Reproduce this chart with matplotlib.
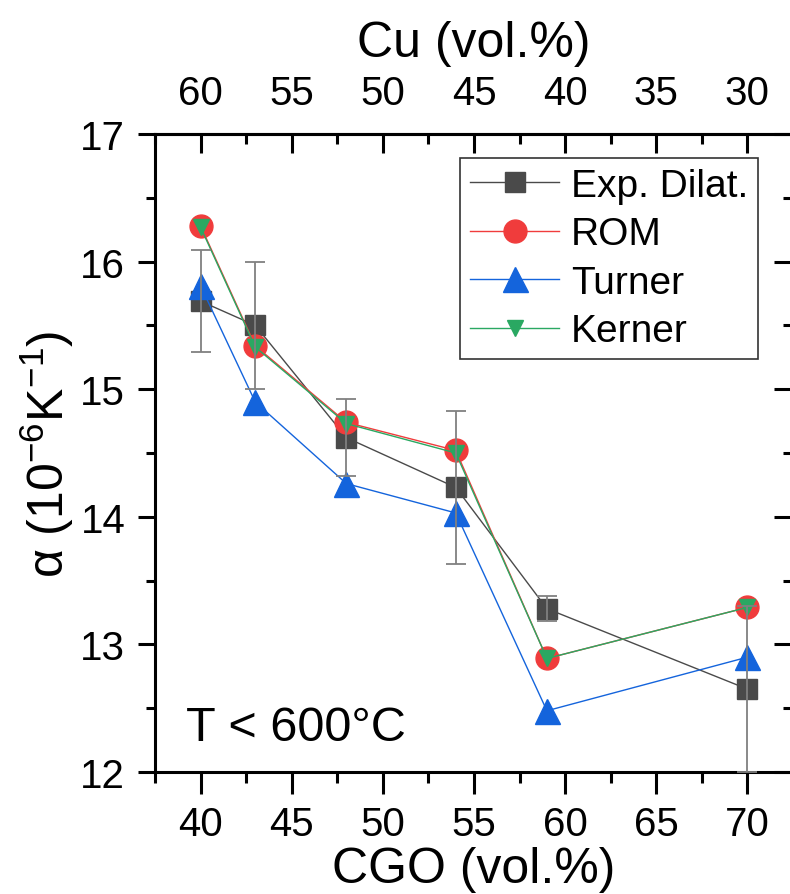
import matplotlib
matplotlib.use("Agg")
import matplotlib.pyplot as plt
from matplotlib.ticker import MultipleLocator, FixedLocator

plt.rcParams['font.family'] = ['Liberation Sans', 'DejaVu Sans']
plt.rcParams['mathtext.fontset'] = 'custom'
plt.rcParams['mathtext.rm'] = 'Liberation Sans'
plt.rcParams['mathtext.default'] = 'regular'

# CGO content (vol.%)
cgo = [40, 43, 48, 54, 59, 70]
# thermal expansion coefficient (10^-6 K^-1)
exp_dilat = [15.69, 15.50, 14.62, 14.23, 13.28, 12.65]
exp_err = [0.40, 0.50, 0.30, 0.60, 0.10, 0.65]
rom = [16.28, 15.34, 14.74, 14.52, 12.89, 13.29]
turner = [15.81, 14.90, 14.26, 14.03, 12.48, 12.90]
kerner = [16.27, 15.33, 14.73, 14.50, 12.89, 13.29]
# top axis tick labels (Cu vol.%)
cu_ticks = [60, 55, 50, 45, 40, 35, 30]

c_exp = '#4a4a4a'
c_rom = '#f03c3c'
c_turner = '#1464dc'
c_kerner = '#2aa862'

fig = plt.figure(figsize=(7.9, 8.95), dpi=100)
ax = fig.add_axes([0.1962, 0.1363, 0.8076, 0.7129])

ax.plot(cgo, exp_dilat, '-s', color=c_exp, lw=1.0, ms=14, mec=c_exp, label='Exp. Dilat.', zorder=3)
ax.errorbar(cgo, exp_dilat, yerr=exp_err, fmt='none', ecolor='#808080', elinewidth=1.3,
            capsize=7, capthick=1.3, zorder=6)
ax.plot(cgo, rom, '-o', color=c_rom, lw=1.0, ms=16.5, mec=c_rom, label='ROM', zorder=4)
ax.plot(cgo, turner, '-^', color=c_turner, lw=1.0, ms=18, mec=c_turner, label='Turner', zorder=5)
ax.plot(cgo, kerner, '-v', color=c_kerner, lw=1.0, ms=11, mec=c_kerner, label='Kerner', zorder=5)

ax.set_xlim(37.5, 72.5)
ax.set_ylim(12, 17)
ax.xaxis.set_major_locator(MultipleLocator(5))
ax.xaxis.set_minor_locator(MultipleLocator(2.5))
ax.yaxis.set_major_locator(MultipleLocator(1))
ax.yaxis.set_minor_locator(MultipleLocator(0.5))

for s in ax.spines.values():
    s.set_linewidth(2.2)

ax.tick_params(axis='x', which='both', direction='out', bottom=True, top=False,
               width=2.2, labelsize=29, pad=8)
ax.tick_params(axis='x', which='major', length=16)
ax.tick_params(axis='x', which='minor', length=8)
ax.tick_params(axis='y', which='both', direction='out', left=True, right=False,
               width=2.2, labelsize=29, pad=9)
ax.tick_params(axis='y', which='major', length=12.5)
ax.tick_params(axis='y', which='minor', length=6.5)

# right side ticks pointing inward
axr = ax.secondary_yaxis('right')
axr.yaxis.set_major_locator(MultipleLocator(1))
axr.yaxis.set_minor_locator(MultipleLocator(0.5))
axr.tick_params(which='both', direction='in', width=2.2, labelright=False)
axr.tick_params(which='major', length=14)
axr.tick_params(which='minor', length=7)
axr.spines['right'].set_linewidth(2.2)

# top axis: Cu content
axt = ax.secondary_xaxis('top', functions=(lambda x: 100 - x, lambda x: 100 - x))
axt.xaxis.set_major_locator(FixedLocator(cu_ticks))
axt.xaxis.set_minor_locator(MultipleLocator(2.5))
axt.tick_params(which='both', direction='in', width=2.2, labelsize=29, pad=16)
axt.tick_params(which='major', length=14)
axt.tick_params(which='minor', length=7)
axt.spines['top'].set_linewidth(2.2)
axt.set_xlabel('Cu (vol.%)', fontsize=36, labelpad=13)

ax.set_xlabel('CGO (vol.%)', fontsize=36, labelpad=2)
ax.set_ylabel('α (10$^{-6}$K$^{-1}$)', fontsize=36, labelpad=3)

ax.text(0.049, 0.05, 'T < 600°C', transform=ax.transAxes, fontsize=35, va='baseline', ha='left')

leg = ax.legend(loc='upper right', bbox_to_anchor=(0.945, 0.962), fontsize=28,
                handlelength=2.3, handletextpad=0.3, labelspacing=0.32,
                borderpad=0.25, borderaxespad=0, fancybox=False, framealpha=1,
                edgecolor='#333333')
leg.get_frame().set_linewidth(1.2)

fig.savefig('out.png', dpi=100)
plt.close(fig)
